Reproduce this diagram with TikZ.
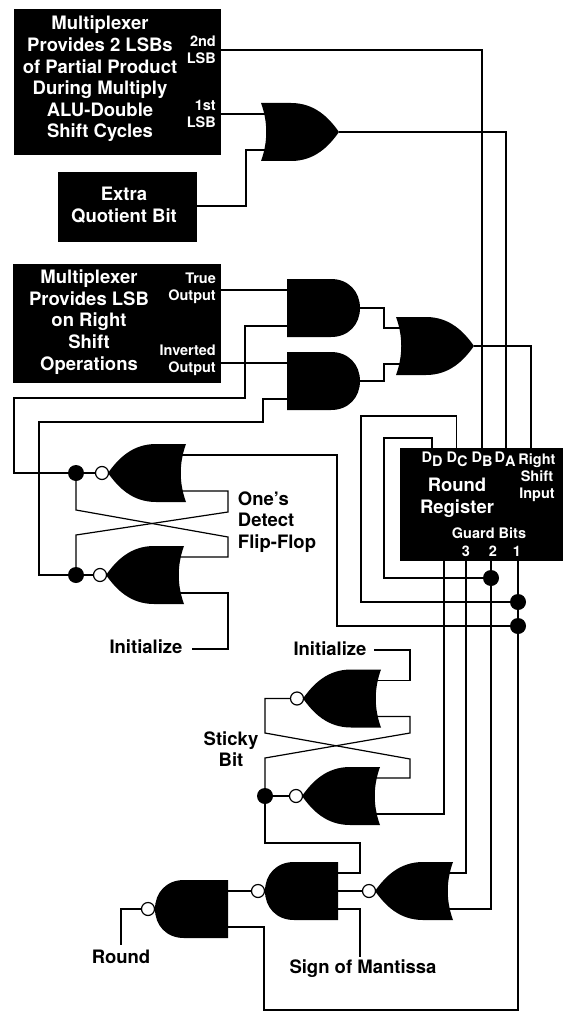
\documentclass[tikz,border=0pt]{standalone}
\usepackage{fontspec}
\setmainfont{TeX Gyre Heros}
\newcommand{\dpin}[1]{D\raisebox{-4pt}{#1}}
\newcommand{\orpath}{\fill (0,-29) -- (30,-29) .. controls (54,-29) and (68,-14) .. (78,0)
      .. controls (68,14) and (54,29) .. (30,29) -- (0,29)
      .. controls (7,10) and (7,-10) .. (0,-29) -- cycle;}
\newcommand{\andpath}{\fill (0,-29) -- (44,-29) .. controls (62,-29) and (73,-16) .. (73,0)
      .. controls (73,16) and (62,29) .. (44,29) -- (0,29) -- cycle;}
\tikzset{
  wire/.style={line width=1.2pt,line join=miter},
  dot/.style={circle,fill=black,inner sep=0pt,minimum size=16pt},
  bubble/.style={circle,draw=black,fill=white,line width=1.2pt,inner sep=0pt,minimum size=13pt},
  blackbox/.style={rectangle,fill=black,inner sep=0pt,anchor=north west},
  boxtext/.style={text=white,align=center,inner sep=0pt,font=\fontsize{18.5}{21.6}\bfseries\selectfont},
  pintext/.style={text=white,align=right,inner sep=0pt,font=\fontsize{14.5}{17}\bfseries\selectfont},
  lab/.style={text=black,align=left,inner sep=0pt,font=\fontsize{18.5}{21.6}\bfseries\selectfont},
  orshape/.pic={
    \orpath
    \coordinate (-a) at (8,-18);
    \coordinate (-b) at (8,18);
    \coordinate (-out) at (78,0);
  },
  norshape/.pic={
    \orpath
    \coordinate (-a) at (8,-18);
    \coordinate (-b) at (8,18);
    \node[bubble] (-bub) at (84,0) {};
  },
  andshape/.pic={
    \andpath
    \coordinate (-a) at (8,-18);
    \coordinate (-b) at (8,18);
    \coordinate (-out) at (73,0);
  },
  nandshape/.pic={
    \andpath
    \coordinate (-a) at (8,-18);
    \coordinate (-m) at (8,0);
    \coordinate (-b) at (8,18);
    \node[bubble] (-bub) at (80,0) {};
  },
}
\begin{document}
\begin{tikzpicture}[x=1pt,y=-1pt]
\useasboundingbox (0,0) rectangle (565,1011);

% boxes
\node[blackbox,minimum width=207pt,minimum height=146pt] (mux1) at (14,9) {};
\node[blackbox,minimum width=139pt,minimum height=70pt] (extra) at (58,172) {};
\node[blackbox,minimum width=208pt,minimum height=119pt] (mux2) at (13,264) {};
\node[blackbox,minimum width=163pt,minimum height=113pt] (reg) at (400,448) {};

\node[boxtext] (mux1txt) at (100,79) {Multiplexer\\Provides 2 LSBs\\of Partial Product\\During Multiply\\ALU-Double\\Shift Cycles};
\node[pintext,anchor=east] (lsb2txt) at (216,50) {2nd\\LSB};
\node[pintext,anchor=east] (lsb1txt) at (216,114) {1st\\LSB};
\node[boxtext] (extratxt) at (124,205) {Extra\\Quotient Bit};
\node[boxtext] (mux2txt) at (89,322) {Multiplexer\\Provides LSB\\on Right\\Shift\\Operations};
\node[pintext,anchor=east] (truetxt) at (216,288) {True\\Output};
\node[pintext,anchor=east] (invtxt) at (216,360) {Inverted\\Output};

\node[pintext] (dDtxt) at (432,459) {\dpin{D}};
\node[pintext] (dCtxt) at (457,459) {\dpin{C}};
\node[pintext] (dBtxt) at (482,459) {\dpin{B}};
\node[pintext] (dAtxt) at (505,459) {\dpin{A}};
\node[pintext,align=center] (righttxt) at (537,478) {Right\\Shift\\Input};
\node[boxtext] (regtxt) at (457,498) {Round\\Register};
\node[pintext] (guardtxt) at (489,533) {Guard Bits};
\node[pintext] (g3txt) at (466,551) {3};
\node[pintext] (g2txt) at (493,551) {2};
\node[pintext] (g1txt) at (517,551) {1};

% labels
\node[lab] (ones) at (277,522) {One's\\Detect\\Flip-Flop};
\node[lab] (init1) at (146,647) {Initialize};
\node[lab] (init2) at (330,649) {Initialize};
\node[lab,align=center] (sticky) at (231,749) {Sticky\\Bit};
\node[lab] (round) at (121,957) {Round};
\node[lab] (mantissa) at (363,969) {Sign of Mantissa};

% gates
\pic (or1) at (261,132) {orshape};
\pic (anda) at (287,308) {andshape};
\pic (andb) at (287,381) {andshape};
\pic (or2) at (396,346) {orshape};
\pic[xscale=-1] (c) at (186,473) {norshape};
\pic[xscale=-1] (d) at (184,575) {norshape};
\pic[xscale=-1] (e) at (381,698.5) {norshape};
\pic[xscale=-1] (f) at (380,796) {norshape};
\pic[xscale=-1] (g) at (338,891) {nandshape};
\pic[xscale=-1] (h) at (453,891) {norshape};
\pic[xscale=-1] (i) at (228,909) {nandshape};

% register pins
\coordinate (inD) at (432,448);
\coordinate (inC) at (456.5,448);
\coordinate (inB) at (482,448);
\coordinate (inA) at (506,448);
\coordinate (inR) at (531,448);
\coordinate (outA) at (444,561);
\coordinate (outB) at (466,561);
\coordinate (outC) at (491,561);
\coordinate (outD) at (518,561);
\coordinate (lsb2) at (221,50);

% free ends
\coordinate (initA) at (192,649);
\coordinate (initB) at (374,650);
\coordinate (signEnd) at (360,957);
\coordinate (roundEnd) at (121,945);

% dots
\node[dot] (dotC) at (76,473) {};
\node[dot] (dotD) at (76,575) {};
\node[dot] (dotS) at (265,796) {};
\node[dot] (dotT) at (491,578) {};
\node[dot] (dotU) at (518,602) {};
\node[dot] (dotV) at (518,626) {};

% top half
\draw[wire] (lsb2) -| (inB);
\draw[wire] (mux1.east |- or1-a) -- (or1-a);
\draw[wire] (or1-b) -| (246,206) -- (extra.east |- 0,206);
\draw[wire] (or1-out) -| (inA);
\draw[wire] (mux2.east |- anda-a) -- (anda-a);
\draw[wire] (mux2.east |- andb-a) -- (andb-a);
\draw[wire] (anda-out) -| (384,328) -- (or2-a);
\draw[wire] (andb-out) -| (384,364) -- (or2-b);
\draw[wire] (or2-out) -| (inR);
\draw[wire] (anda-b) -| (245,398) -| (14,473) -- (dotC);
\draw[wire] (andb-b) -| (263,422) -| (39,575) -- (dotD);

% one's detect flip-flop
\draw[wire] (dotC) -- (c-bub);
\draw[wire] (dotD) -- (d-bub);
\draw[wire] (c-a) -| (337,626) -- (dotV);
\draw[wire] (c-b) -| (228,512) -- (76,535) -- (dotD);
\draw[wire] (dotC) -- (76,510) -- (228,537) |- (d-a);
\draw[wire] (d-b) -| (228,649) -- (initA);

% round register
\draw[wire] (inD) |- (384,438) |- (dotT);
\draw[wire] (inC) |- (361,416) |- (dotU);
\draw[wire] (outA) |- (f-b);
\draw[wire] (outB) |- (h-a);
\draw[wire] (outC) |- (h-b);
\draw[wire] (outD) |- (264,1010) |- (i-b);

% sticky bit
\draw[wire] (e-a) -| (410,650) -- (initB);
\draw[wire] (e-b) -| (410,733) -- (265,758) -- (dotS);
\draw[wire] (e-bub) -| (265,733) -- (410,759) |- (f-a);
\draw[wire] (dotS) -- (f-bub);
\draw[wire] (dotS) |- (360,843) |- (g-a);
\draw[wire] (g-m) -- (h-bub);
\draw[wire] (g-b) -| (signEnd);
\draw[wire] (i-a) -- (g-bub);
\draw[wire] (i-bub) -| (roundEnd);

\end{tikzpicture}
\end{document}
